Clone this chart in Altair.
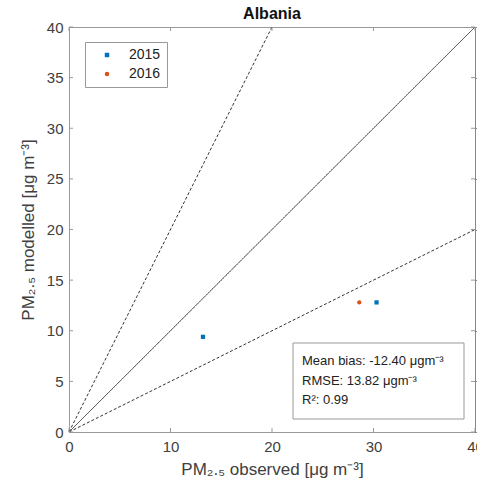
import altair as alt
import pandas as pd

# data
years = ["2015", "2015", "2016"]
observed = [13.2, 30.3, 28.6]
modelled = [9.4, 12.8, 12.8]

line_names = ["1:1", "1:1", "2:1", "2:1", "1:2", "1:2"]
line_x = [0, 40, 0, 20, 0, 40]
line_y = [0, 40, 0, 40, 0, 20]
line_dash = ["solid", "solid", "dash", "dash", "dash", "dash"]

x_ticks = [0, 10, 20, 30, 40]
y_ticks = [0, 5, 10, 15, 20, 25, 30, 35, 40]

stats_lines = ["Mean bias: -12.40 \u03bcgm\u207b\u00b3", "RMSE: 13.82 \u03bcgm\u207b\u00b3", "R\u00b2: 0.99"]

W, H = 406, 405
FONT = "Liberation Sans"
GRAY = "#404040"

pts = pd.DataFrame({"year": years, "obs": observed, "mod": modelled})
lines = pd.DataFrame({"name": line_names, "x": line_x, "y": line_y, "dash": line_dash})
xt = pd.DataFrame({"v": x_ticks})
yt = pd.DataFrame({"v": y_ticks})
st = pd.DataFrame({"t": stats_lines, "i": list(range(len(stats_lines)))})

xs = alt.Scale(domain=[0, 40], nice=False)
ys = alt.Scale(domain=[0, 40], nice=False)

x_axis = alt.Axis(values=x_ticks, ticks=False, domain=False, grid=False, labelPadding=7,
                  labelFontSize=15, labelColor=GRAY, labelFont=FONT, titleFont=FONT,
                  titleFontSize=17, titleColor=GRAY, titleFontWeight="normal", titlePadding=7,
                  labelFlush=False)
y_axis = alt.Axis(values=y_ticks, ticks=False, domain=False, grid=False, labelPadding=6,
                  labelFontSize=15, labelColor=GRAY, labelFont=FONT, titleFont=FONT,
                  titleFontSize=17, titleColor=GRAY, titleFontWeight="normal", titlePadding=9)

ref = alt.Chart(lines).mark_line(strokeWidth=1, color="#333333").encode(
    x=alt.X("x:Q", scale=xs, axis=x_axis, title="PM\u2082.\u2085 observed [\u03bcg m\u207b\u00b3]"),
    y=alt.Y("y:Q", scale=ys, axis=y_axis, title="PM\u2082.\u2085 modelled [\u03bcg m\u207b\u00b3]"),
    detail="name:N",
    strokeDash=alt.StrokeDash("dash:N", scale=alt.Scale(domain=["solid", "dash"], range=[[1, 0], [3, 2]]), legend=None),
)

bt = alt.Chart(xt).mark_rule(color="#999999").encode(
    x=alt.X("v:Q", scale=xs), y=alt.value(H), y2=alt.value(H - 4))
tt = alt.Chart(xt).mark_rule(color="#999999").encode(
    x=alt.X("v:Q", scale=xs), y=alt.value(0), y2=alt.value(4))
lt = alt.Chart(yt).mark_rule(color="#999999").encode(
    y=alt.Y("v:Q", scale=ys), x=alt.value(0), x2=alt.value(4))
rt = alt.Chart(yt).mark_rule(color="#999999").encode(
    y=alt.Y("v:Q", scale=ys), x=alt.value(W), x2=alt.value(W - 4))

points = alt.Chart(pts).mark_point(filled=True, opacity=1, size=18).encode(
    x=alt.X("obs:Q", scale=xs),
    y=alt.Y("mod:Q", scale=ys),
    color=alt.Color("year:N", scale=alt.Scale(domain=["2015", "2016"], range=["#0072BD", "#D95319"]),
                    legend=alt.Legend(title=None, orient="none", legendX=16, legendY=15,
                                      strokeColor="#999999", fillColor="white", padding=6,
                                      symbolOffset=9, labelOffset=15, labelFontSize=14,
                                      labelFont=FONT, labelColor="#222222", rowPadding=5,
                                      symbolSize=20, symbolStrokeWidth=0)),
    shape=alt.Shape("year:N", scale=alt.Scale(domain=["2015", "2016"], range=["square", "circle"])),
)

box = alt.Chart(st).mark_rect(fill="white", stroke="#999999", strokeWidth=1).encode(
    x=alt.value(224), x2=alt.value(395), y=alt.value(316), y2=alt.value(392)).transform_filter("datum.i == 0")

texts = alt.Chart(st).mark_text(align="left", baseline="middle", font=FONT, fontSize=13, color="#222222").encode(
    x=alt.value(233),
    y=alt.Y("i:O", scale=alt.Scale(type="point", range=[334, 373], padding=0), axis=None),
    text="t:N",
)

chart = alt.layer(ref, bt, tt, lt, rt, points, box, texts).resolve_scale(y="independent").properties(
    width=W, height=H,
    title=alt.TitleParams("Albania", font=FONT, fontSize=16, fontWeight="bold", color="#111111", offset=-2),
    autosize=alt.AutoSizeParams(type="none"),
    padding={"left": 69, "top": 27, "right": 2, "bottom": 63},
).configure_view(stroke="#999999", strokeWidth=1)

chart.save("out.html", embed_options={"renderer": "svg", "actions": False})
